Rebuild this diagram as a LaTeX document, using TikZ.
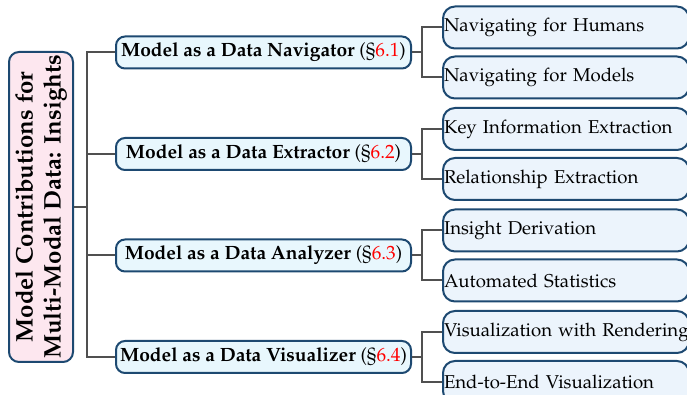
\documentclass[tikz,border=0pt]{standalone}
\usepackage[T1]{fontenc}
\usepackage{mathpazo}
\usepackage{xcolor}
\usepackage{tikz}
\usetikzlibrary{positioning}

\definecolor{rootpink}{HTML}{FDE7EF}
\definecolor{catblue}{HTML}{E8F7FD}
\definecolor{leafblue}{HTML}{ECF4FC}
\definecolor{edgeblue}{HTML}{1D4971}
\definecolor{linkgray}{HTML}{505050}

\newcommand{\secref}[1]{\textnormal{(\S\textcolor{red}{#1})}}

\begin{document}
\begin{tikzpicture}[
    root/.style={rectangle, rounded corners=5pt, draw=edgeblue, line width=1pt, fill=rootpink, rotate=90, align=center, minimum width=155pt, minimum height=32pt, inner sep=1pt, font=\large\bfseries},
    cat/.style={rectangle, rounded corners=4.5pt, draw=edgeblue, line width=1pt, fill=catblue, minimum width=147.5pt, minimum height=16pt, inner sep=0.5pt, font=\fontsize{9.6}{11}\selectfont\bfseries},
    leaf/.style={rectangle, rounded corners=6pt, draw=edgeblue, line width=1pt, fill=leafblue, text width=122pt, align=left, minimum height=21pt, inner xsep=0.5pt, inner ysep=0.5pt, font=\fontsize{9.3}{11}\selectfont,
        execute at begin node={\leavevmode\hbox\bgroup}, execute at end node={\egroup}},
    link/.style={draw=linkgray, line width=1pt}]

    \useasboundingbox (0,0) rectangle (343.5pt,-197.5pt);

    \node[root] (insight) at (20.5pt,-103.5pt) {Model Contributions for\\Multi-Modal Data: Insights};

    \node[cat, anchor=west] (nav) at (57.5pt,-26.25pt) {Model as a Data Navigator \secref{6.1}};
    \node[cat, below=33.75pt of nav] (ext) {Model as a Data Extractor \secref{6.2}};
    \node[cat, below=33.75pt of ext] (ana) {Model as a Data Analyzer \secref{6.3}};
    \node[cat, below=33.75pt of ana] (vis) {Model as a Data Visualizer \secref{6.4}};

    \node[leaf, right=15pt of nav, yshift=12.5pt] (navhum) {Navigating for Humans};
    \node[leaf, right=15pt of nav, yshift=-12.5pt] (navmod) {Navigating for Models};
    \node[leaf, right=15pt of ext, yshift=12.5pt] (extkey) {Key Information Extraction};
    \node[leaf, right=15pt of ext, yshift=-12.5pt] (extrel) {Relationship Extraction};
    \node[leaf, right=15pt of ana, yshift=12.5pt] (anains) {Insight Derivation};
    \node[leaf, right=15pt of ana, yshift=-12.5pt] (anasta) {Automated Statistics};
    \node[leaf, right=15pt of vis, yshift=12.5pt] (visren) {Visualization with Rendering};
    \node[leaf, right=15pt of vis, yshift=-12.5pt] (visend) {End-to-End Visualization};

    % root to categories
    \foreach \c in {nav,ext,ana,vis}
        \draw[link] (insight.south) -- ++(6.5pt,0) |- (\c.west);

    % categories to leaves
    \foreach \c/\a/\b in {nav/navhum/navmod, ext/extkey/extrel, ana/anains/anasta, vis/visren/visend} {
        \draw[link] (\c.east) -- ++(5pt,0) |- (\a.west);
        \draw[link] (\c.east) -- ++(5pt,0) |- (\b.west);
    }
\end{tikzpicture}
\end{document}
